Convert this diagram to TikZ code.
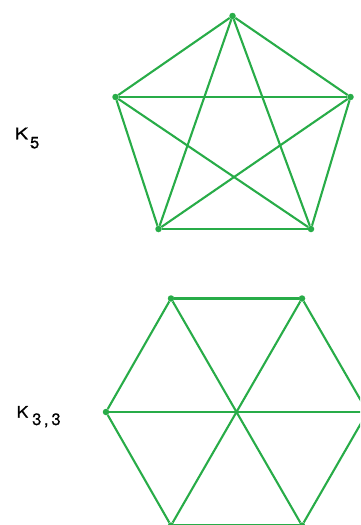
\documentclass[tikz,border=0pt]{standalone}
\usepackage{fontspec}
\setmainfont{TeX Gyre Heros}
\newfontfamily\lblfont{TeX Gyre Heros}[FakeBold=0.8]
\definecolor{edgegreen}{RGB}{40,172,72}
\begin{document}
\begin{tikzpicture}[x=1pt,y=-1pt,
  vtx/.style={circle,fill=edgegreen,inner sep=0pt,minimum size=6.5pt},
  edge/.style={draw=edgegreen,line width=2.1pt},
  lbl/.style={inner sep=0pt,anchor=base west,font=\lblfont\fontsize{16}{16}\selectfont}]
\useasboundingbox (0,0) rectangle (360,525);
\clip (0,0) rectangle (360,525);
% K5
\node[vtx] (a) at (232.5,16) {};
\node[vtx] (b) at (115.5,97) {};
\node[vtx] (c) at (350.5,97) {};
\node[vtx] (d) at (158.5,229) {};
\node[vtx] (e) at (311,229) {};
\foreach \u/\v in {a/b,a/c,a/d,a/e,b/c,b/d,b/e,c/d,c/e,d/e}
  \draw[edge] (\u) -- (\v);
\node[lbl] (k5) at (14.5,139.3) {\scalebox{1.25}[1]{K}\hspace{2pt}\raisebox{-9pt}{\fontsize{16.5}{16}\selectfont 5}};
% K3,3
\node[vtx] (p) at (171,298.5) {};
\node[vtx] (q) at (302,298.5) {};
\node[vtx] (r) at (367.5,412) {};
\node[vtx] (s) at (302,525.5) {};
\node[vtx] (t) at (171,525.5) {};
\node[vtx] (u) at (106,412) {};
\node[vtx,minimum size=4.5pt] (o) at (236.5,412) {};
\foreach \u/\v in {p/q,q/r,r/s,s/t,t/u,u/p}
  \draw[edge] (\u) -- (\v);
\foreach \u/\v in {p/s,q/t,u/r}
  \draw[edge] (\u) -- (\v);
\node[lbl] (k33) at (16.5,417.7) {\scalebox{1.08}[1]{K}\hspace{4pt}\raisebox{-7.3pt}{\fontsize{16.5}{16}\selectfont 3\hspace{2.5pt},\hspace{3pt}3}};
\end{tikzpicture}
\end{document}
